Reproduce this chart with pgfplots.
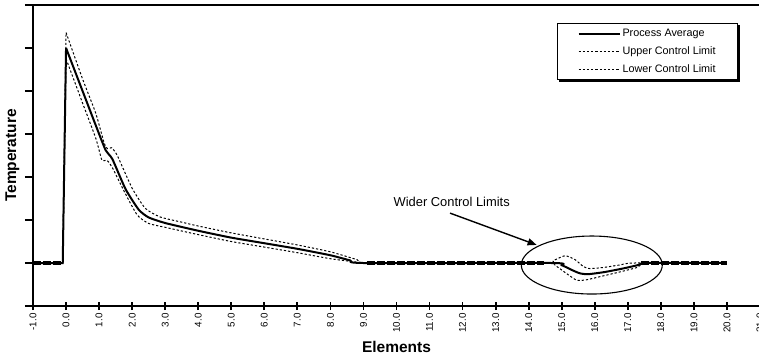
\documentclass[border=0pt]{standalone}
\usepackage{fontspec}
\setmainfont{Liberation Sans}
\usepackage{pgfplots}
\pgfplotsset{compat=1.18}
\usetikzlibrary{arrows.meta}
\begin{document}
\begin{tikzpicture}
\useasboundingbox (-33pt,-51pt) rectangle (726pt,306pt);
\begin{axis}[
  scale only axis, width=727pt, height=301pt,
  xmin=-1, xmax=21, ymin=0, ymax=7,
  axis line style={line width=2pt},
  tick pos=left,
  xtick={-1,0,...,21},
  xticklabels={-1.0,0.0,1.0,2.0,3.0,4.0,5.0,6.0,7.0,8.0,9.0,10.0,11.0,12.0,13.0,14.0,15.0,16.0,17.0,18.0,19.0,20.0,21.0},
  ytick={0,1,...,7},
  yticklabels={},
  major tick length=8pt,
  xtick align=center,
  ytick align=outside,
  tick style={line width=1.8pt, black},
  x tick label style={rotate=90, anchor=east, font=\fontsize{9.8}{11}\selectfont},
  xlabel={Elements},
  ylabel={Temperature},
  every axis x label/.style={at={(axis description cs:0.5,-0.136)}, anchor=center, font=\fontsize{15.5}{18}\selectfont\bfseries},
  every axis y label/.style={at={(axis description cs:-0.0282,0.5)}, rotate=90, anchor=center, font=\fontsize{15.5}{18}\selectfont\bfseries},
  legend style={name=leg, at={(0.9697,0.941)}, anchor=north east, draw=black, line width=0.8pt,
    font=\fontsize{10.8}{12}\selectfont, inner xsep=20pt, inner ysep=4pt, row sep=4.5pt},
  legend cell align=left,
  legend image code/.code={\draw[#1] (0pt,0pt) -- (41pt,0pt);},
]
% Process average
\addplot[black, line width=2pt, forget plot] coordinates {(-1,1) (-0.1,1) (0,6.0)};
\addplot[black, line width=2pt, smooth, tension=0.35] coordinates {
(0,6.0) (0.5,5.0) (0.9,4.2) (1.2,3.62) (1.4,3.42) (1.8,2.72) (2.2,2.24) (2.5,2.06) (3,1.93)
(4,1.75) (5,1.59) (6,1.46) (7,1.33) (8,1.18) (8.6,1.06) (9,1.0) (14.7,1.0) (15.0,0.95) (15.3,0.84)
(15.55,0.76) (15.8,0.74) (16.3,0.79) (16.9,0.88) (17.3,0.95) (17.6,1.0) (20,1)};
\addlegendentry{Process Average}
% Upper control limit
\addplot[black, line width=1pt, dash pattern=on 2.2pt off 2pt, forget plot] coordinates {(-1,1) (-0.1,1) (0,6.36)};
\addplot[black, line width=1pt, dash pattern=on 2.2pt off 2pt, smooth, tension=0.35] coordinates {
(0,6.36) (0.5,5.28) (0.9,4.48) (1.15,3.8) (1.25,3.66) (1.38,3.68) (1.55,3.5) (2.0,2.74) (2.4,2.27)
(2.85,2.07) (3.5,1.95) (4,1.86) (5,1.7) (6,1.56) (7,1.42) (8,1.26) (8.8,1.08) (9.2,1.0) (14.4,1.0)
(14.75,1.06) (15.1,1.17) (15.4,1.08) (15.65,0.92) (15.85,0.87) (16.3,0.9) (16.8,0.96) (17.2,1.0) (20,1)};
\addlegendentry{Upper Control Limit}
% Lower control limit
\addplot[black, line width=1pt, dash pattern=on 2.2pt off 2pt, forget plot] coordinates {(-1,1) (-0.1,1) (0,5.75)};
\addplot[black, line width=1pt, dash pattern=on 2.2pt off 2pt, smooth, tension=0.35] coordinates {
(0,5.75) (0.5,4.72) (0.9,3.9) (1.07,3.42) (1.12,3.38) (1.25,3.38) (1.4,3.22) (1.75,2.68) (2.15,2.12)
(2.5,1.92) (3,1.83) (4,1.66) (5,1.5) (6,1.37) (7,1.24) (8,1.1) (8.8,1.02) (9.1,1.0) (14.4,1.0)
(14.8,0.94) (15.1,0.78) (15.45,0.6) (15.75,0.61) (16.2,0.69) (16.8,0.8) (17.3,0.9) (17.6,1.0) (20,1)};
\addlegendentry{Lower Control Limit}
% overlapping baseline segments
\addplot[black, line width=4pt, dash pattern=on 8pt off 2pt, forget plot] coordinates {(-1,1) (-0.12,1)};
\addplot[black, line width=4pt, dash pattern=on 8pt off 2pt, forget plot] coordinates {(9.1,1) (14.45,1)};
\addplot[black, line width=4pt, dash pattern=on 8pt off 2pt, forget plot] coordinates {(17.4,1) (20,1)};
% annotation
\draw[line width=1.1pt] (axis cs:15.91,0.953) ellipse [x radius=70.5pt, y radius=29pt];
\draw[line width=1.4pt, -{Triangle[length=9pt,width=7pt]}] (axis cs:11.62,2.16) -- (axis cs:14.24,1.42);
\node[font=\fontsize{12.9}{15}\selectfont] at (axis cs:11.67,2.42) {Wider Control Limits};
\end{axis}
% legend shadow (right and bottom edges)
\fill[black] ([yshift=-2pt]leg.north east) rectangle ([xshift=2pt,yshift=-2pt]leg.south east);
\fill[black] ([xshift=2pt]leg.south west) rectangle ([xshift=2pt,yshift=-2pt]leg.south east);
\end{tikzpicture}
\end{document}
